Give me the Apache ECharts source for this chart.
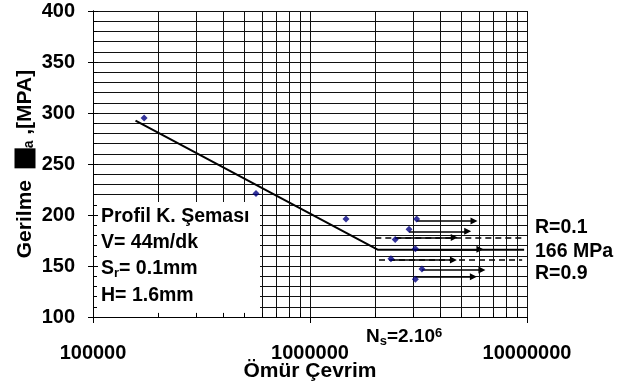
<!DOCTYPE html>
<html><head><meta charset="utf-8">
<script src="https://cdn.jsdelivr.net/npm/echarts@6/dist/echarts.min.js"></script>
<style>html,body{margin:0;padding:0;background:#fff}#c{width:624px;height:385px}</style>
</head><body><div id="c"></div>
<script>
// ---- DATA ----
const xTickValues = [100000, 1000000, 10000000];
const yTickValues = [100, 150, 200, 250, 300, 350, 400];
const pointCycles = [172000, 564000, 1465000, 3100000, 2860000, 2470000, 3060000, 2360000, 3280000, 3060000];
const pointStress = [295, 221, 196, 196, 186, 176, 167, 157, 147, 137];
const fitCycles = [157000, 2050000, 9700000];
const fitStress = [292.5, 166, 166];
const arrowStartCycles = [3100000, 2860000, 2470000, 3060000, 2360000, 3280000, 3060000];
const arrowEndCycles = [5700000, 5330000, 4620000, 6070000, 4580000, 6200000, 5660000];
const arrowStress = [194, 184, 178, 166.4, 156, 146, 139.5];
const limitStartCycles = [2000000, 2080000];
const limitEndCycles = [9500000, 9500000];
const limitStress = [178, 156.6];
const limitLabels = ['R=0.1', '166 MPa', 'R=0.9'];
const boxLines = ['Profil K. Şeması', 'V= 44m/dk', 'S{sub|r}= 0.1mm', 'H= 1.6mm'];
const xName = 'Ömür Çevrim';
const yName = 'Gerilme  {box|σ}{sub|a} ,[MPA]';

// ---- CHART ----
const FONT = '"Liberation Sans", Arial, sans-serif';
const GRID = '#111';
const minorX = [];
for (let i = 0; i < xTickValues.length - 1; i++) for (let k = 2; k <= 9; k++) minorX.push(k * xTickValues[i]);
const yMin = yTickValues[0], yMax = yTickValues[yTickValues.length - 1];

const chart = echarts.init(document.getElementById('c'), null, {renderer: 'canvas'});
const txt = (text, x, y, size, extra) => Object.assign({
  type: 'text', x: x, y: y, z: 10,
  style: {text: text, fontFamily: FONT, fontSize: size, fontWeight: 'bold', fill: '#000',
    align: 'left', verticalAlign: 'middle', textAlign: 'left', textVerticalAlign: 'middle',
    rich: {
      sub: {fontFamily: FONT, fontSize: 13, fontWeight: 'bold', fill: '#000', color: '#000', verticalAlign: 'bottom', padding: [8, 0, 0, 0]},
      sup: {fontFamily: FONT, fontSize: 13, fontWeight: 'bold', fill: '#000', color: '#000', verticalAlign: 'top', padding: [0, 0, 8, 0]}
    }}
}, extra || {});

const option = {
  animation: false,
  backgroundColor: '#fff',
  grid: {left: 93, top: 11, right: 97, bottom: 68, containLabel: false, outerBoundsMode: 'none'},
  xAxis: {
    type: 'log', logBase: 10, min: xTickValues[0], max: xTickValues[xTickValues.length - 1],
    axisLine: {show: true, onZero: false, lineStyle: {color: '#000', width: 1}},
    axisTick: {show: true, length: 6, lineStyle: {color: '#000'}},
    axisLabel: {fontFamily: FONT, fontSize: 20, fontWeight: 'bold', color: '#000', margin: 26,
      formatter: v => String(Math.round(v))},
    splitLine: {show: true, lineStyle: {color: GRID, width: 1}},
    name: xName, nameLocation: 'middle', nameGap: 44, nameMoveOverlap: false,
    nameTextStyle: {fontFamily: FONT, fontSize: 21, fontWeight: 'bold', color: '#000'}
  },
  yAxis: [{
    type: 'value', min: yMin, max: yMax, interval: 50,
    axisLine: {show: true, lineStyle: {color: '#000'}},
    axisTick: {show: true, length: 5, lineStyle: {color: '#000'}},
    axisLabel: {fontFamily: FONT, fontSize: 20, fontWeight: 'bold', color: '#000', margin: 18},
    splitLine: {show: true, lineStyle: {color: GRID, width: 1}},
    minorTick: {show: false, splitNumber: 5},
    minorSplitLine: {show: true, lineStyle: {color: GRID, width: 1}},
    name: yName, nameLocation: 'middle', nameGap: 57, nameMoveOverlap: false,
    nameTextStyle: {fontFamily: FONT, fontSize: 21, fontWeight: 'bold', color: '#000',
      rich: {
        box: {fontFamily: FONT, fontSize: 20, fontWeight: 'bold', color: '#000', backgroundColor: '#000', width: 20, height: 21},
        sub: {fontFamily: FONT, fontSize: 14, fontWeight: 'bold', color: '#000', verticalAlign: 'bottom', padding: [8, 0, 0, 0]}
      }}
  }, {
    type: 'value', min: yMin, max: yMax, interval: 50, position: 'left', z: 5,
    axisLine: {show: true, lineStyle: {color: '#000'}},
    axisTick: {show: true, inside: true, length: 5, lineStyle: {color: '#000'}},
    minorTick: {show: true, splitNumber: 5, length: 4, lineStyle: {color: '#000'}},
    axisLabel: {show: false}, splitLine: {show: false}
  }],
  series: [
    { // minor vertical grid lines (log decades)
      type: 'lines', coordinateSystem: 'cartesian2d', z: 0, silent: true,
      lineStyle: {color: GRID, width: 1, opacity: 1},
      data: minorX.map(v => ({coords: [[v, yMin], [v, yMax]]}))
    },
    { // minor x ticks (inside)
      type: 'lines', coordinateSystem: 'cartesian2d', z: 6, silent: true,
      lineStyle: {color: '#000', width: 1, opacity: 1},
      data: minorX.map(v => ({coords: [[v, yMin], [v, yMin + 4]]}))
    },
    { // fit line
      type: 'line', z: 3, symbol: 'none', silent: true,
      lineStyle: {color: '#000', width: 2},
      data: fitCycles.map((c, i) => [c, fitStress[i]])
    },
    { // R limits dashed
      type: 'lines', coordinateSystem: 'cartesian2d', z: 3, silent: true,
      lineStyle: {color: '#000', width: 1.5, type: [6, 4], opacity: 1},
      data: limitStress.map((s, i) => ({coords: [[limitStartCycles[i], s], [limitEndCycles[i], s]]}))
    },
    { // run-out arrows
      type: 'lines', coordinateSystem: 'cartesian2d', z: 4, silent: true,
      symbol: ['none', 'triangle'], symbolSize: 7,
      lineStyle: {color: '#000', width: 1.5, opacity: 1},
      data: arrowStress.map((s, i) => ({coords: [[arrowStartCycles[i], s], [arrowEndCycles[i], s]]}))
    },
    { // data points
      type: 'scatter', z: 5, symbol: 'diamond', symbolSize: 7,
      itemStyle: {color: '#000080'},
      data: pointCycles.map((c, i) => [c, pointStress[i]])
    }
  ],
  graphic: [
    {type: 'rect', x: 94, y: 202, z: 1, shape: {width: 166, height: 114}, style: {fill: '#fff'}},
    txt(boxLines[0], 101, 217, 19.5),
    txt(boxLines[1], 101, 243, 19.5),
    txt(boxLines[2], 101, 269, 19.5),
    txt(boxLines[3], 101, 296, 19.5),
    txt(limitLabels[0], 535, 228, 19.5),
    txt(limitLabels[1], 535, 252, 19.5),
    txt(limitLabels[2], 535, 274, 19.5),
    txt('N{sub|s}=2.10{sup|6}', 366, 337, 19)
  ]
};
chart.setOption(option);
</script>
</body></html>
